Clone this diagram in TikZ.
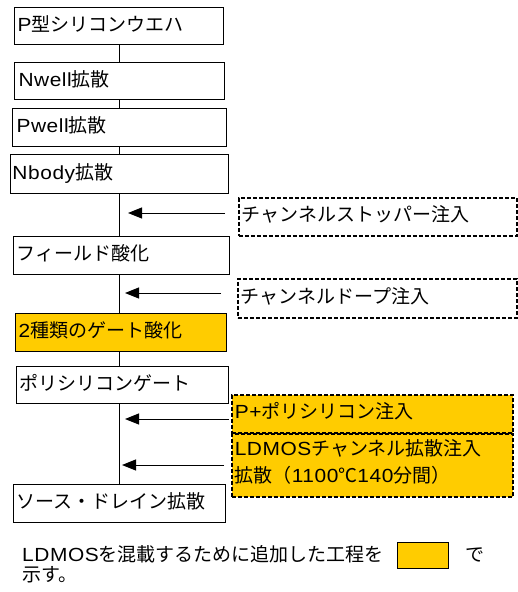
\documentclass[tikz,border=0pt]{standalone}
\usepackage{fontspec}
\setmainfont{Noto Sans CJK JP}
\newfontfamily\lat[FakeStretch=1.1,LetterSpace=3]{Liberation Sans}
\newcommand{\la}[1]{{\lat #1}}
\usetikzlibrary{arrows.meta}
\definecolor{gold}{HTML}{FFCC00}
\tikzset{
  box/.style={draw=black, line width=1pt, fill=white, anchor=north west,
    inner xsep=3pt, inner ysep=0pt, align=left, text height=14pt, text depth=4pt,
    font=\fontsize{19}{27}\selectfont},
  added/.style={fill=gold},
  implant/.style={dash pattern=on 4pt off 2pt, line width=1.5pt},
  arr/.style={line width=1pt, -{Triangle[length=14pt,width=11pt]}},
  spine/.style={line width=1pt},
  note/.style={anchor=base west, inner sep=0pt, font=\fontsize{19}{20}\selectfont}
}
\begin{document}
\begin{tikzpicture}[x=1pt,y=-1pt]
\useasboundingbox (0,0) rectangle (517,592);
\fill[white] (0,0) rectangle (517,592);
% spine (drawn first, hidden behind the step boxes)
\coordinate (top) at (119,44);
\coordinate (bot) at (119,484);
\draw[spine] (top) -- (bot);
% process steps
\node[box, text width=203pt, minimum height=37pt] (n1) at (14,7) {\la{P}型シリコンウエハ};
\node[box, text width=202pt, minimum height=37pt, inner xsep=4pt] (n2) at (14,62) {\la{Nwell}拡散};
\node[box, text width=206pt, minimum height=38pt, inner xsep=4pt] (n3) at (12,108) {\la{Pwell}拡散};
\node[box, text width=214pt, minimum height=39pt, inner xsep=2pt] (n4) at (10,154) {\la{Nbody}拡散};
\node[box, text width=210pt, minimum height=38pt] (n5) at (13,236) {フィールド酸化};
\node[box, added, text width=205pt, minimum height=38pt] (n6) at (15,313) {\la{2}種類のゲート酸化};
\node[box, text width=206pt, minimum height=37pt] (n7) at (16,366) {ポリシリコンゲート};
\node[box, text width=206pt, minimum height=38pt] (n8) at (13,484) {ソース・ドレイン拡散};
% implants
\node[box, implant, text width=272pt, minimum height=38pt] (cs) at (238,197) {チャンネルストッパー注入};
\node[box, implant, text width=273pt, minimum height=39pt] (cd) at (237,278) {チャンネルドープ注入};
\node[box, implant, added, text width=275pt, minimum height=38pt] (pp) at (231,394) {\la{P+}ポリシリコン注入};
\node[box, implant, added, text width=275pt, minimum height=63pt, text depth=33pt] (ld) at (231,433) {\la{LDMOS}チャンネル拡散注入\\拡散（\la{1100}℃\la{140}分間）};
% arrows
\coordinate (a1s) at (225,213); \coordinate (a1e) at (128,213);
\coordinate (a2s) at (221,293); \coordinate (a2e) at (125,293);
\coordinate (a3s) at (229,419); \coordinate (a3e) at (125,419);
\coordinate (a4s) at (224,465); \coordinate (a4e) at (122,465);
\draw[arr] (a1s) -- (a1e);
\draw[arr] (a2s) -- (a2e);
\draw[arr] (a3s) -- (a3e);
\draw[arr] (a4s) -- (a4e);
% legend
\node[note] (t1) at (22,561) {\la{LDMOS}を混載するために追加した工程を};
\node[draw=black, line width=1pt, fill=gold, anchor=north west, minimum width=51pt, minimum height=26pt, inner sep=0pt] (lg) at (397,542) {};
\node[note] (t2) at (465,561) {で};
\node[note] (t3) at (22,581) {示す。};
\end{tikzpicture}
\end{document}
